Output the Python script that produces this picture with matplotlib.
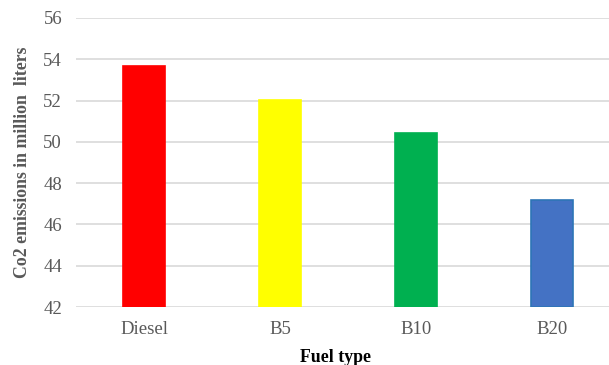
import matplotlib
matplotlib.use("Agg")
import matplotlib.pyplot as plt

categories = ["Diesel", "B5", "B10", "B20"]
values = [53.67, 52.03, 50.43, 47.18]
colors = ["#FF0000", "#FFFF00", "#00B050", "#4472C4"]
edges = ["#FF0000", "#FFFF00", "#00B050", "#2E75B6"]
yticks = [42, 44, 46, 48, 50, 52, 54, 56]

plt.rcParams['font.family'] = ['Liberation Serif', 'DejaVu Serif']
fig = plt.figure(figsize=(6.09, 3.65), dpi=100)
ax = fig.add_axes([76/609, (365-307)/365, 544/609, (307-18)/365])

x = range(len(categories))
ax.bar(x, [v - 42 for v in values], bottom=42, width=0.316, color=colors,
       edgecolor=edges, linewidth=1.2, zorder=3)
ax.set_xlim(-0.5, 3.5)
ax.set_ylim(42, 56)
ax.set_yticks(yticks)
ax.set_xticks(list(x))
ax.set_xticklabels(categories)
ax.yaxis.grid(True, color="#D9D9D9", linewidth=1.2, zorder=0)
ax.set_axisbelow(True)
for s in ax.spines.values():
    s.set_visible(False)
ax.tick_params(axis='both', length=0, labelsize=13.5, colors="#595959")
ax.tick_params(axis='y', pad=10)
ax.tick_params(axis='x', pad=10)
ax.set_ylabel("Co2 emissions in million  liters", fontsize=12.8, fontweight='bold',
              color="#595959", labelpad=9)
fig.text(335/609, 1 - 358/365, "Fuel type", fontsize=12.8, fontweight='bold',
         color="black", ha='center', va='center')
fig.savefig("out.png", dpi=100)
